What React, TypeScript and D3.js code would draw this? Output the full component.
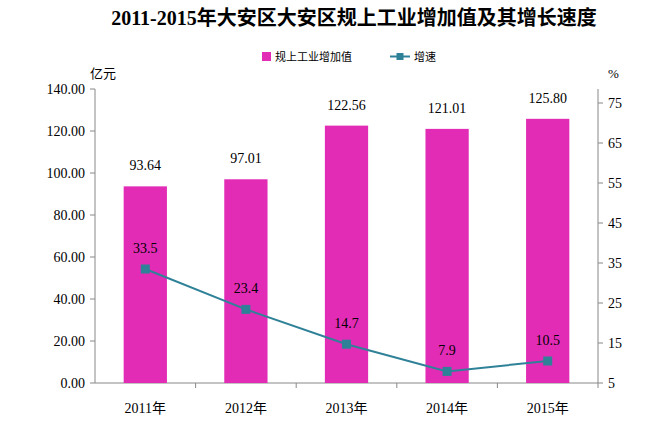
import React from 'react';
import * as d3 from 'd3';

const years = ['2011年', '2012年', '2013年', '2014年', '2015年'];
const values = [93.64, 97.01, 122.56, 121.01, 125.8];
const growth = [33.5, 23.4, 14.7, 7.9, 10.5];
const leftTicks = [0, 20, 40, 60, 80, 100, 120, 140];
const rightTicks = [5, 15, 25, 35, 45, 55, 65, 75];

const W = 654, H = 429;
const m = { left: 95, right: 598, top: 89, bottom: 383 };
const font = '"Liberation Serif", "Noto Sans CJK SC", serif';
const barColor = '#E22CB6';
const lineColor = '#2F8198';

const App: React.FC = () => {
  const x = d3.scaleBand().domain(years).range([m.left, m.right]).paddingInner(0.57).paddingOuter(0.285);
  const y = d3.scaleLinear().domain([0, 140]).range([m.bottom, m.top]);
  const y2 = d3.scaleLinear().domain([5, 78.5]).range([m.bottom, m.top]);
  const cx = (d: string) => x(d)! + x.bandwidth() / 2;
  const line = d3.line<number>().x((_, i) => cx(years[i])).y((d) => y2(d));

  return (
    <svg width={W} height={H} style={{ position: 'absolute', left: 0, top: 0, background: '#fff' }}>
      <text x={354} y={25} textAnchor="middle" fontSize={20} fontWeight="bold" fontFamily={font}>
        2011-2015年大安区大安区规上工业增加值及其增长速度
      </text>
      {/* legend */}
      <rect x={262} y={52} width={9} height={9} fill={barColor} />
      <text x={275} y={61} fontSize={11} fontFamily={font}>规上工业增加值</text>
      <line x1={390} x2={410} y1={56.5} y2={56.5} stroke={lineColor} strokeWidth={2} />
      <rect x={396.5} y={53} width={7} height={7} fill={lineColor} />
      <text x={414} y={61} fontSize={11} fontFamily={font}>增速</text>
      <text x={90} y={78} fontSize={13} fontFamily={font}>亿元</text>
      <text x={608} y={78} fontSize={13} fontFamily={font}>%</text>
      {/* axes */}
      <line x1={m.left} x2={m.left} y1={m.top} y2={m.bottom} stroke="#888" />
      <line x1={m.right} x2={m.right} y1={m.top} y2={m.bottom} stroke="#888" />
      <line x1={m.left} x2={m.right} y1={m.bottom} y2={m.bottom} stroke="#888" />
      {leftTicks.map((t) => (
        <g key={'l' + t}>
          <line x1={m.left - 5} x2={m.left} y1={y(t)} y2={y(t)} stroke="#888" />
          <text x={m.left - 10} y={y(t) + 5} textAnchor="end" fontSize={14} fontFamily={font}>{t.toFixed(2)}</text>
        </g>
      ))}
      {rightTicks.map((t) => (
        <g key={'r' + t}>
          <line x1={m.right} x2={m.right + 5} y1={y2(t)} y2={y2(t)} stroke="#888" />
          <text x={m.right + 10} y={y2(t) + 5} fontSize={14} fontFamily={font}>{t}</text>
        </g>
      ))}
      {years.map((yr, i) => (
        <g key={yr}>
          <line x1={m.left + (i + 1) * (m.right - m.left) / 5} x2={m.left + (i + 1) * (m.right - m.left) / 5} y1={m.bottom} y2={m.bottom + 5} stroke="#888" />
          <rect x={x(yr)} y={y(values[i])} width={x.bandwidth()} height={m.bottom - y(values[i])} fill={barColor} />
          <text x={cx(yr)} y={y(values[i]) - 16} textAnchor="middle" fontSize={14} fontFamily={font}>{values[i].toFixed(2)}</text>
          <text x={cx(yr)} y={m.bottom + 30} textAnchor="middle" fontSize={14} fontFamily={font}>{yr}</text>
        </g>
      ))}
      <path d={line(growth)!} fill="none" stroke={lineColor} strokeWidth={2} />
      {growth.map((g, i) => (
        <g key={'g' + i}>
          <rect x={cx(years[i]) - 4.5} y={y2(g) - 4.5} width={9} height={9} fill={lineColor} />
          <text x={cx(years[i])} y={y2(g) - 16} textAnchor="middle" fontSize={14} fontFamily={font}>{g.toFixed(1)}</text>
        </g>
      ))}
    </svg>
  );
};

export default App;
